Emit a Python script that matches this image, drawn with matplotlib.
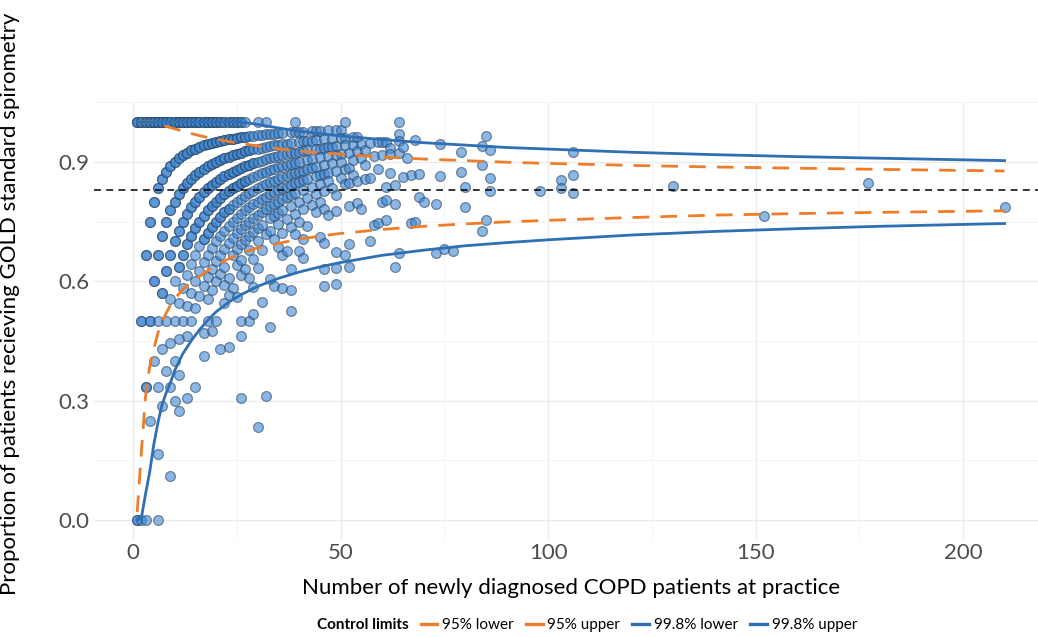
import matplotlib
matplotlib.use("Agg")
import matplotlib.pyplot as plt
from matplotlib.lines import Line2D

plt.rcParams['font.family'] = ['Lato', 'DejaVu Sans']

# Practices: number of newly diagnosed COPD patients at the practice,
# and for each practice the number of patients WITHOUT GOLD spirometry
# (repeated values = several practices on the same point)
practice_sizes = list(range(1, 71)) + [73, 74, 75, 77, 79, 80, 84, 85, 86,
                                       98, 103, 106, 130, 152, 177, 210]
practice_misses = [
    [0, 0, 0, 1, 1],                                                  # 1
    [0, 0, 0, 1, 1, 2],                                               # 2
    [0, 0, 0, 1, 1, 2, 2, 3],                                         # 3
    [0, 0, 0, 1, 1, 2, 2, 3],                                         # 4
    [0, 0, 0, 1, 1, 2, 2, 3],                                         # 5
    [0, 0, 0, 1, 1, 2, 2, 3, 4, 5, 6],                                # 6
    [0, 0, 0, 1, 1, 2, 2, 3, 3, 4, 5],                                # 7
    [0, 0, 0, 1, 1, 2, 2, 3, 3, 4, 5],                                # 8
    [0, 0, 0, 1, 1, 2, 2, 3, 3, 4, 5, 6, 8],                          # 9
    [0, 0, 0, 1, 1, 2, 2, 3, 3, 4, 5, 6, 7],                          # 10
    [0, 0, 0, 1, 1, 2, 2, 3, 3, 4, 4, 5, 6, 7, 8],                    # 11
    [0, 0, 0, 1, 1, 2, 2, 3, 3, 4, 4, 5, 6],                          # 12
    [0, 0, 0, 1, 1, 2, 2, 3, 3, 4, 4, 5, 6, 7, 9],                    # 13
    [0, 0, 0, 1, 1, 2, 2, 3, 3, 4, 4, 5, 6, 7],                       # 14
    [0, 0, 0, 1, 1, 2, 2, 3, 3, 4, 4, 5, 6, 7, 10],                   # 15
    [0, 0, 0, 1, 1, 2, 2, 3, 3, 4, 4, 5, 6, 7],                       # 16
    [0, 0, 0, 1, 1, 2, 2, 3, 3, 4, 4, 5, 5, 6, 7, 9, 10],             # 17
    [0, 0, 0, 1, 1, 2, 2, 3, 3, 4, 4, 5, 5, 6, 7, 8, 9],              # 18
    [0, 0, 0, 1, 1, 2, 2, 3, 3, 4, 4, 5, 5, 6, 7, 8, 10],             # 19
    [0, 0, 0, 1, 1, 2, 2, 3, 3, 4, 4, 5, 5, 6, 7, 8, 10],             # 20
    [0, 0, 1, 1, 2, 2, 3, 3, 4, 4, 5, 5, 6, 7, 8, 12],                # 21
    [0, 0, 1, 1, 2, 2, 3, 3, 4, 4, 5, 5, 6, 7, 8, 9, 10],             # 22
    [0, 0, 1, 1, 2, 2, 3, 3, 4, 4, 5, 5, 6, 7, 9, 10, 13],            # 23
    [0, 0, 1, 1, 2, 2, 3, 3, 4, 4, 5, 6, 7, 8, 10],                   # 24
    [0, 0, 1, 1, 2, 2, 3, 3, 4, 4, 5, 6, 7, 8, 9, 11],                # 25
    [0, 0, 1, 1, 2, 2, 3, 3, 4, 4, 5, 6, 7, 8, 9, 10, 13, 14, 18],    # 26
    [0, 1, 1, 2, 2, 3, 3, 4, 4, 5, 6, 7, 8, 10],                      # 27
    [1, 2, 2, 3, 3, 4, 5, 6, 7, 8, 9, 11, 14],                        # 28
    [1, 2, 3, 3, 4, 5, 6, 7, 8, 10, 12, 14],                          # 29
    [0, 1, 2, 3, 4, 5, 6, 7, 8, 9, 11, 23],                           # 30
    [1, 2, 3, 4, 5, 6, 7, 8, 10, 14],                                 # 31
    [0, 1, 2, 3, 4, 5, 6, 7, 9, 22],                                  # 32
    [1, 2, 3, 4, 5, 6, 7, 8, 9, 13, 17],                              # 33
    [1, 2, 3, 4, 5, 6, 7, 8, 10, 14],                                 # 34
    [1, 2, 3, 4, 5, 6, 7, 8, 9, 11],                                  # 35
    [1, 2, 3, 4, 5, 6, 7, 8, 10, 12, 15],                             # 36
    [2, 3, 4, 5, 6, 7, 9, 12],                                        # 37
    [1, 2, 3, 4, 5, 6, 7, 8, 10, 14, 16, 18],                         # 38
    [0, 1, 3, 4, 5, 6, 7, 9, 11],                                     # 39
    [1, 2, 3, 4, 5, 6, 8, 10, 13],                                    # 40
    [1, 2, 3, 5, 6, 7, 9, 12, 14],                                    # 41
    [2, 3, 4, 5, 6, 8, 11],                                           # 42
    [1, 2, 4, 5, 7, 9],                                               # 43
    [1, 2, 3, 5, 6, 8, 10],                                           # 44
    [1, 3, 4, 6, 7, 9, 13],                                           # 45
    [2, 3, 5, 6, 8, 10, 14, 17, 19],                                  # 46
    [1, 3, 4, 6, 7, 11],                                              # 47
    [2, 3, 5, 8],                                                     # 48
    [1, 3, 4, 6, 9, 11, 16, 18, 20],                                  # 49
    [1, 2, 4, 5, 7],                                                  # 50
    [0, 2, 3, 6, 8, 17],                                              # 51
    [4, 6, 8, 11, 16, 19],                                            # 52
    [2, 3, 5, 7],                                                     # 53
    [2, 4, 8, 11],                                                    # 54
    [3, 5, 12],                                                       # 55
    [4, 6, 8],                                                        # 56
    [3, 8, 17],                                                       # 57
    [5, 15],                                                          # 58
    [3, 7, 15],                                                       # 59
    [3, 5, 12],                                                       # 60
    [3, 10, 12, 15],                                                  # 61
    [4, 5, 8],                                                        # 62
    [10, 13, 23],                                                     # 63
    [0, 2, 3, 5, 21],                                                 # 64
    [4, 9],                                                           # 65
    [6],                                                              # 66
    [9, 17],                                                          # 67
    [3, 17],                                                          # 68
    [9, 13],                                                          # 69
    [14],                                                             # 70
    [15, 24],                                                         # 73
    [4, 10],                                                          # 74
    [24],                                                             # 75
    [25],                                                             # 77
    [6, 10],                                                          # 79
    [13, 17],                                                         # 80
    [5, 9, 23],                                                       # 84
    [3, 21],                                                          # 85
    [6, 12, 15],                                                      # 86
    [17],                                                             # 98
    [15, 17],                                                         # 103
    [8, 14, 19],                                                      # 106
    [21],                                                             # 130
    [36],                                                             # 152
    [27],                                                             # 177
    [45],                                                             # 210
]

# overall proportion and funnel control limits
mean_prop = 0.83
limit_n = [1, 2, 3, 4, 5, 6, 7, 8, 9, 10, 12, 14, 16, 18, 20, 23, 26, 30, 35,
           40, 45, 50, 60, 70, 80, 90, 100, 120, 140, 160, 180, 210]
lower_95 = [0.02, 0.17, 0.31, 0.385, 0.43, 0.47, 0.50, 0.52, 0.54, 0.555,
            0.58, 0.598, 0.612, 0.627, 0.64, 0.656, 0.67, 0.684, 0.695,
            0.706, 0.713, 0.72, 0.73, 0.738, 0.744, 0.749, 0.753, 0.76,
            0.766, 0.77, 0.773, 0.777]
upper_95 = [1.0, 1.0, 1.0, 1.0, 1.0, 0.997, 0.993, 0.989, 0.986, 0.983,
            0.977, 0.971, 0.966, 0.961, 0.957, 0.951, 0.946, 0.94, 0.933,
            0.927, 0.923, 0.919, 0.912, 0.907, 0.903, 0.899, 0.896, 0.891,
            0.887, 0.884, 0.881, 0.877]
lower_998 = [0.0, 0.005, 0.065, 0.12, 0.19, 0.245, 0.29, 0.32, 0.345, 0.375,
             0.418, 0.45, 0.478, 0.502, 0.523, 0.547, 0.566, 0.587, 0.607,
             0.623, 0.636, 0.647, 0.665, 0.678, 0.689, 0.697, 0.704, 0.716,
             0.725, 0.732, 0.738, 0.745]
upper_998 = [1.0, 1.0, 1.0, 1.0, 1.0, 1.0, 1.0, 1.0, 1.0, 1.0, 1.0, 1.0,
             1.0, 1.0, 1.0, 1.0, 1.0, 0.994, 0.985, 0.977, 0.971, 0.965,
             0.956, 0.948, 0.942, 0.936, 0.932, 0.924, 0.918, 0.913, 0.909,
             0.903]

x_ticks = [0, 50, 100, 150, 200]
y_ticks = [0.0, 0.3, 0.6, 0.9]
y_tick_labels = ["0.0", "0.3", "0.6", "0.9"]

# flatten practice table
xs, ys = [], []
for n, misses in zip(practice_sizes, practice_misses):
    for m in misses:
        xs.append(n)
        ys.append((n - m) / n)

orange = "#EE7D2B"
blue = "#2F6FB3"

fig = plt.figure(figsize=(10.38, 6.37), dpi=100)
ax = fig.add_axes([0.0904, 0.1524, 0.9192, 0.6873])

ax.scatter(xs, ys, s=50, facecolor="#3F86D2", edgecolor="#2A4766",
           linewidth=0.9, alpha=0.6, zorder=2)

ax.axhline(mean_prop, color="black", lw=1.1, dashes=(4.5, 3.5), zorder=3)
ax.plot(limit_n, lower_95, color=orange, lw=2.0, dashes=(6, 4), zorder=4)
ax.plot(limit_n, upper_95, color=orange, lw=2.0, dashes=(6, 4), zorder=4)
ax.plot(limit_n, lower_998, color=blue, lw=2.0, zorder=4)
ax.plot(limit_n, upper_998, color=blue, lw=2.0, zorder=4)

ax.set_xlim(-9.45, 220.45)
ax.set_ylim(-0.05, 1.05)
ax.set_xticks(x_ticks)
ax.set_xticks([25, 75, 125, 175], minor=True)
ax.set_yticks(y_ticks)
ax.set_yticklabels(y_tick_labels)
ax.set_yticks([0.15, 0.45, 0.75, 1.05], minor=True)
ax.grid(which="major", color="#EBEBEB", lw=0.9)
ax.grid(which="minor", color="#F3F3F3", lw=0.6)
ax.set_axisbelow(True)
for s in ax.spines.values():
    s.set_visible(False)
ax.tick_params(which="both", length=0, labelsize=16, colors="#4D4D4D",
               pad=3)
ax.tick_params(axis="x", pad=2)

ax.set_xlabel("Number of newly diagnosed COPD patients at practice",
              fontsize=16, labelpad=11)
ax.set_ylabel("Proportion of patients recieving GOLD standard spirometry",
              fontsize=16)
ax.yaxis.set_label_coords(-0.077, 0.54)

handles = [Line2D([], [], color="none"),
           Line2D([], [], color=orange, lw=2.4),
           Line2D([], [], color=orange, lw=2.4),
           Line2D([], [], color=blue, lw=2.4),
           Line2D([], [], color=blue, lw=2.4)]
labels = ["Control limits", "95% lower", "95% upper", "99.8% lower",
          "99.8% upper"]
leg = fig.legend(handles, labels, ncol=5, loc="lower center",
                 bbox_to_anchor=(0.555, -0.014), frameon=False, fontsize=11,
                 handlelength=1.1, handletextpad=0.3, columnspacing=0.8)
leg.get_texts()[0].set_fontweight("bold")

fig.savefig("out.png", dpi=100)
